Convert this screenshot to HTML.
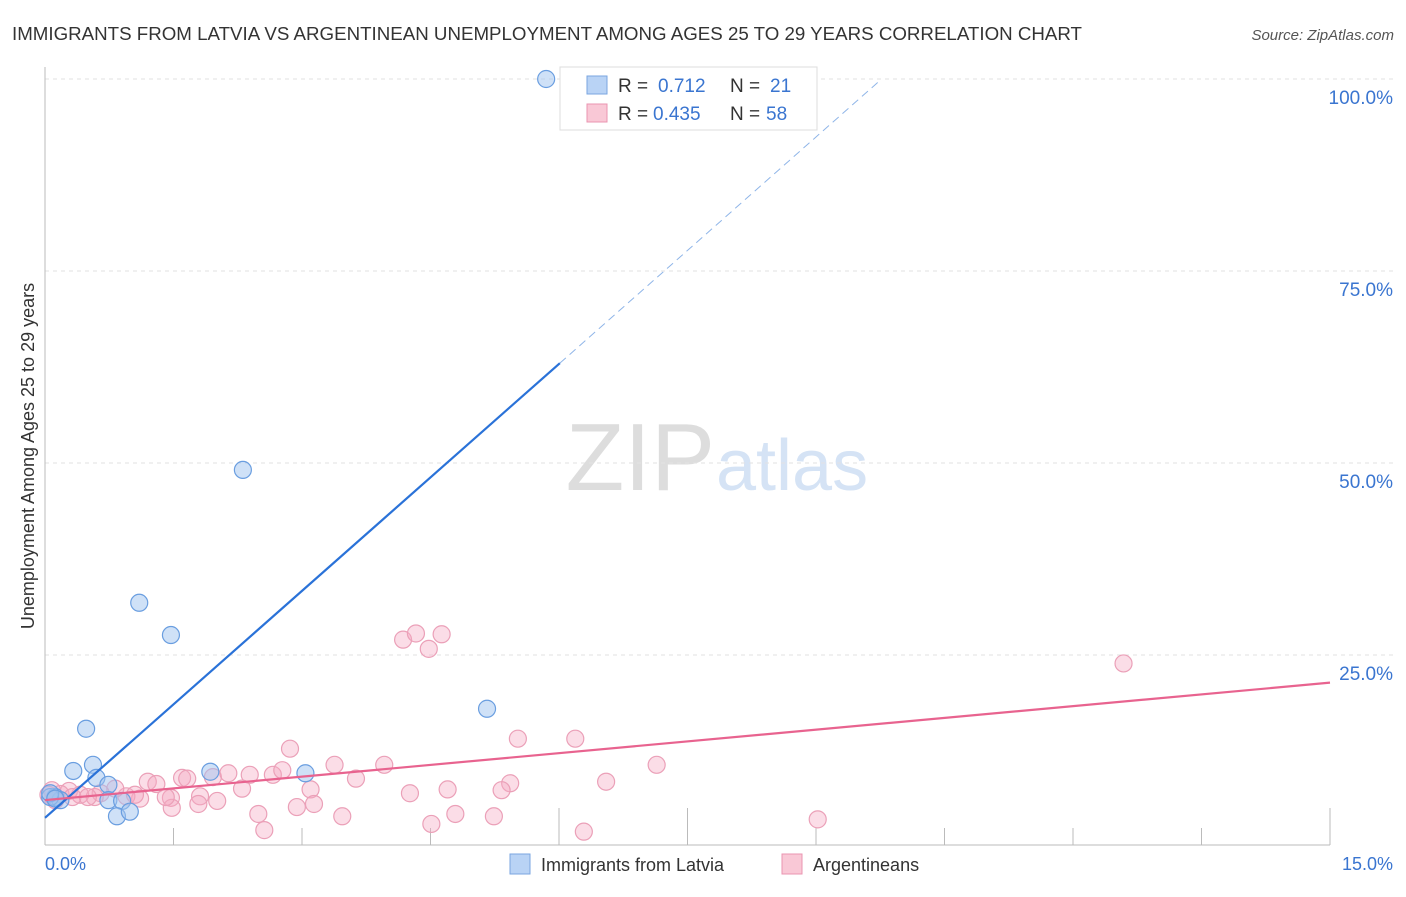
<!DOCTYPE html>
<html><head><meta charset="utf-8"><style>
body{margin:0;background:#fff;font-family:"Liberation Sans",sans-serif;}
svg text{font-family:"Liberation Sans",sans-serif;}
</style></head><body>
<svg id="c" width="1406" height="892" viewBox="0 0 1406 892">
<text x="12" y="40" font-size="18" fill="#333" textLength="1070" lengthAdjust="spacingAndGlyphs">IMMIGRANTS FROM LATVIA VS ARGENTINEAN UNEMPLOYMENT AMONG AGES 25 TO 29 YEARS CORRELATION CHART</text>
<text x="1394" y="40" font-size="15" fill="#555" font-style="italic" text-anchor="end">Source: ZipAtlas.com</text>
<text x="715" y="490" font-size="96" fill="#ddd" text-anchor="end" font-family="Liberation Serif">ZIP</text>
<text x="716" y="490" font-size="72" fill="#d5e3f5">atlas</text>
<g id="grid"></g>
<g id="axes"></g>
<g id="pts"></g>
<g id="lines"></g>
<text transform="translate(34,456) rotate(-90)" font-size="18" fill="#333" text-anchor="middle">Unemployment Among Ages 25 to 29 years</text>
<text x="45" y="870" font-size="18" fill="#3a75d0">0.0%</text>
<text x="1393" y="870" font-size="18" fill="#3a75d0" text-anchor="end">15.0%</text>
<g>
<rect x="560" y="67" width="257" height="63" fill="#fff" stroke="#ddd"/>
<rect x="587" y="76" width="20" height="18" fill="#b9d3f5" stroke="#7aa6e0"/>
<text x="618" y="92" font-size="19" fill="#333">R = </text><text x="658" y="92" font-size="19" fill="#3a75d0">0.712</text>
<text x="730" y="92" font-size="19" fill="#333">N = </text><text x="770" y="92" font-size="19" fill="#3a75d0">21</text>
<rect x="587" y="104" width="20" height="18" fill="#f9c8d6" stroke="#ea94b0"/>
<text x="618" y="120" font-size="19" fill="#333">R = </text><text x="653" y="120" font-size="19" fill="#3a75d0">0.435</text>
<text x="730" y="120" font-size="19" fill="#333">N = </text><text x="766" y="120" font-size="19" fill="#3a75d0">58</text>
</g>
<g>
<rect x="510" y="854" width="20" height="20" fill="#b9d3f5" stroke="#7aa6e0"/>
<text x="541" y="871" font-size="18" fill="#333">Immigrants from Latvia</text>
<rect x="782" y="854" width="20" height="20" fill="#f9c8d6" stroke="#ea94b0"/>
<text x="813" y="871" font-size="18" fill="#333">Argentineans</text>
</g>
</svg>
<script>
const blueX=[5.85,2.31,1.10,1.47,0.48,5.16,0.56,0.33,0.60,1.93,3.04,0.74,0.12,0.18,0.06,0.74,0.90,0.84,0.99,0.06,0.12];
const blueY=[100,49.1,31.8,27.6,15.4,18.0,10.7,9.9,9.0,9.8,9.6,8.1,6.5,6.1,6.5,6.1,6.0,4.0,4.6,7.0,6.3];
const pinkX=[4.18,4.33,4.63,4.48,12.59,5.52,6.19,2.86,7.14,3.38,3.96,6.55,5.43,1.60,1.20,1.30,1.66,1.96,2.14,2.39,2.66,2.77,3.63,3.10,2.30,4.70,4.26,5.33,1.81,1.47,1.11,0.95,0.82,0.65,0.58,0.41,0.28,0.18,0.08,2.01,1.79,1.48,2.49,2.94,3.14,3.47,4.79,5.24,4.51,2.56,6.29,9.02,1.41,1.05,0.32,0.50,0.12,0.04];
const pinkY=[27.0,27.8,27.7,25.8,23.9,14.1,14.1,12.8,10.7,10.7,10.7,8.5,8.3,9.0,8.5,8.2,8.9,9.1,9.6,9.4,9.4,10.0,8.9,7.5,7.6,7.5,7.0,7.4,6.6,6.4,6.3,6.6,7.6,7.0,6.5,6.8,7.3,6.9,7.4,6.0,5.6,5.1,4.3,5.2,5.6,4.0,4.3,4.0,3.0,2.2,2.0,3.6,6.5,6.8,6.5,6.5,6.1,6.8];
const blueFit=[3.8,9.85];
const pinkFit=[6.1,1.02];
const yTicks=[25,50,75,100];
const xTicks=[1.5,3,4.5,6,7.5,9,10.5,12,13.5,15];
const NS='http://www.w3.org/2000/svg';
const X=v=>45+v/15*1285, Y=v=>847-v/100*768;
function mk(t,a,p){const e=document.createElementNS(NS,t);for(const k in a)e.setAttribute(k,a[k]);document.getElementById(p).appendChild(e);return e;}
yTicks.forEach(v=>{
 const l=mk('line',{x1:45,x2:1393,y1:Y(v),y2:Y(v),stroke:'#e2e2e2','stroke-dasharray':'4,4'},'grid');
 
 
 const t=mk('text',{x:1393,y:Y(v)+25,'font-size':19,fill:'#3a75d0','text-anchor':'end'},'grid');
 t.textContent=v.toFixed(1)+'%';
 
 
});
const ax=mk('line',{x1:45,x2:1330,y1:845,y2:845,stroke:'#bbb'},'axes');


const ay=mk('line',{x1:45,x2:45,y1:67,y2:845,stroke:'#bbb'},'axes');


xTicks.forEach((v,i)=>{
 const t=mk('line',{x1:X(v),x2:X(v),y1:(i==3||i==4||i==9)?808:828,y2:845,stroke:'#bbb'},'axes');
 
 
});
pinkX.forEach((x,i)=>{
 const c=mk('circle',{cx:X(x),cy:Y(pinkY[i]),r:8.5,fill:'rgba(246,170,195,0.4)',stroke:'#eba0b8','stroke-width':1.2},'pts');
 
 
});
blueX.forEach((x,i)=>{
 const c=mk('circle',{cx:X(x),cy:Y(blueY[i]),r:8.5,fill:'rgba(160,196,240,0.5)',stroke:'#6a9ee0','stroke-width':1.2},'pts');
 
 
});
const f=(p,x)=>p[0]+p[1]*x;
const b1=mk('line',{x1:X(0),y1:Y(f(blueFit,0)),x2:X(6.01),y2:Y(f(blueFit,6.01)),stroke:'#2a72d8','stroke-width':2.2},'lines');


const b2=mk('line',{x1:X(6.01),y1:Y(f(blueFit,6.01)),x2:X(9.75),y2:Y(f(blueFit,9.75)),stroke:'#8fb5e8','stroke-width':1,'stroke-dasharray':'8,5'},'lines');


const p1=mk('line',{x1:X(0),y1:Y(f(pinkFit,0)),x2:X(15),y2:Y(f(pinkFit,15)),stroke:'#e8638f','stroke-width':2.2},'lines');


</script>
</body></html>
